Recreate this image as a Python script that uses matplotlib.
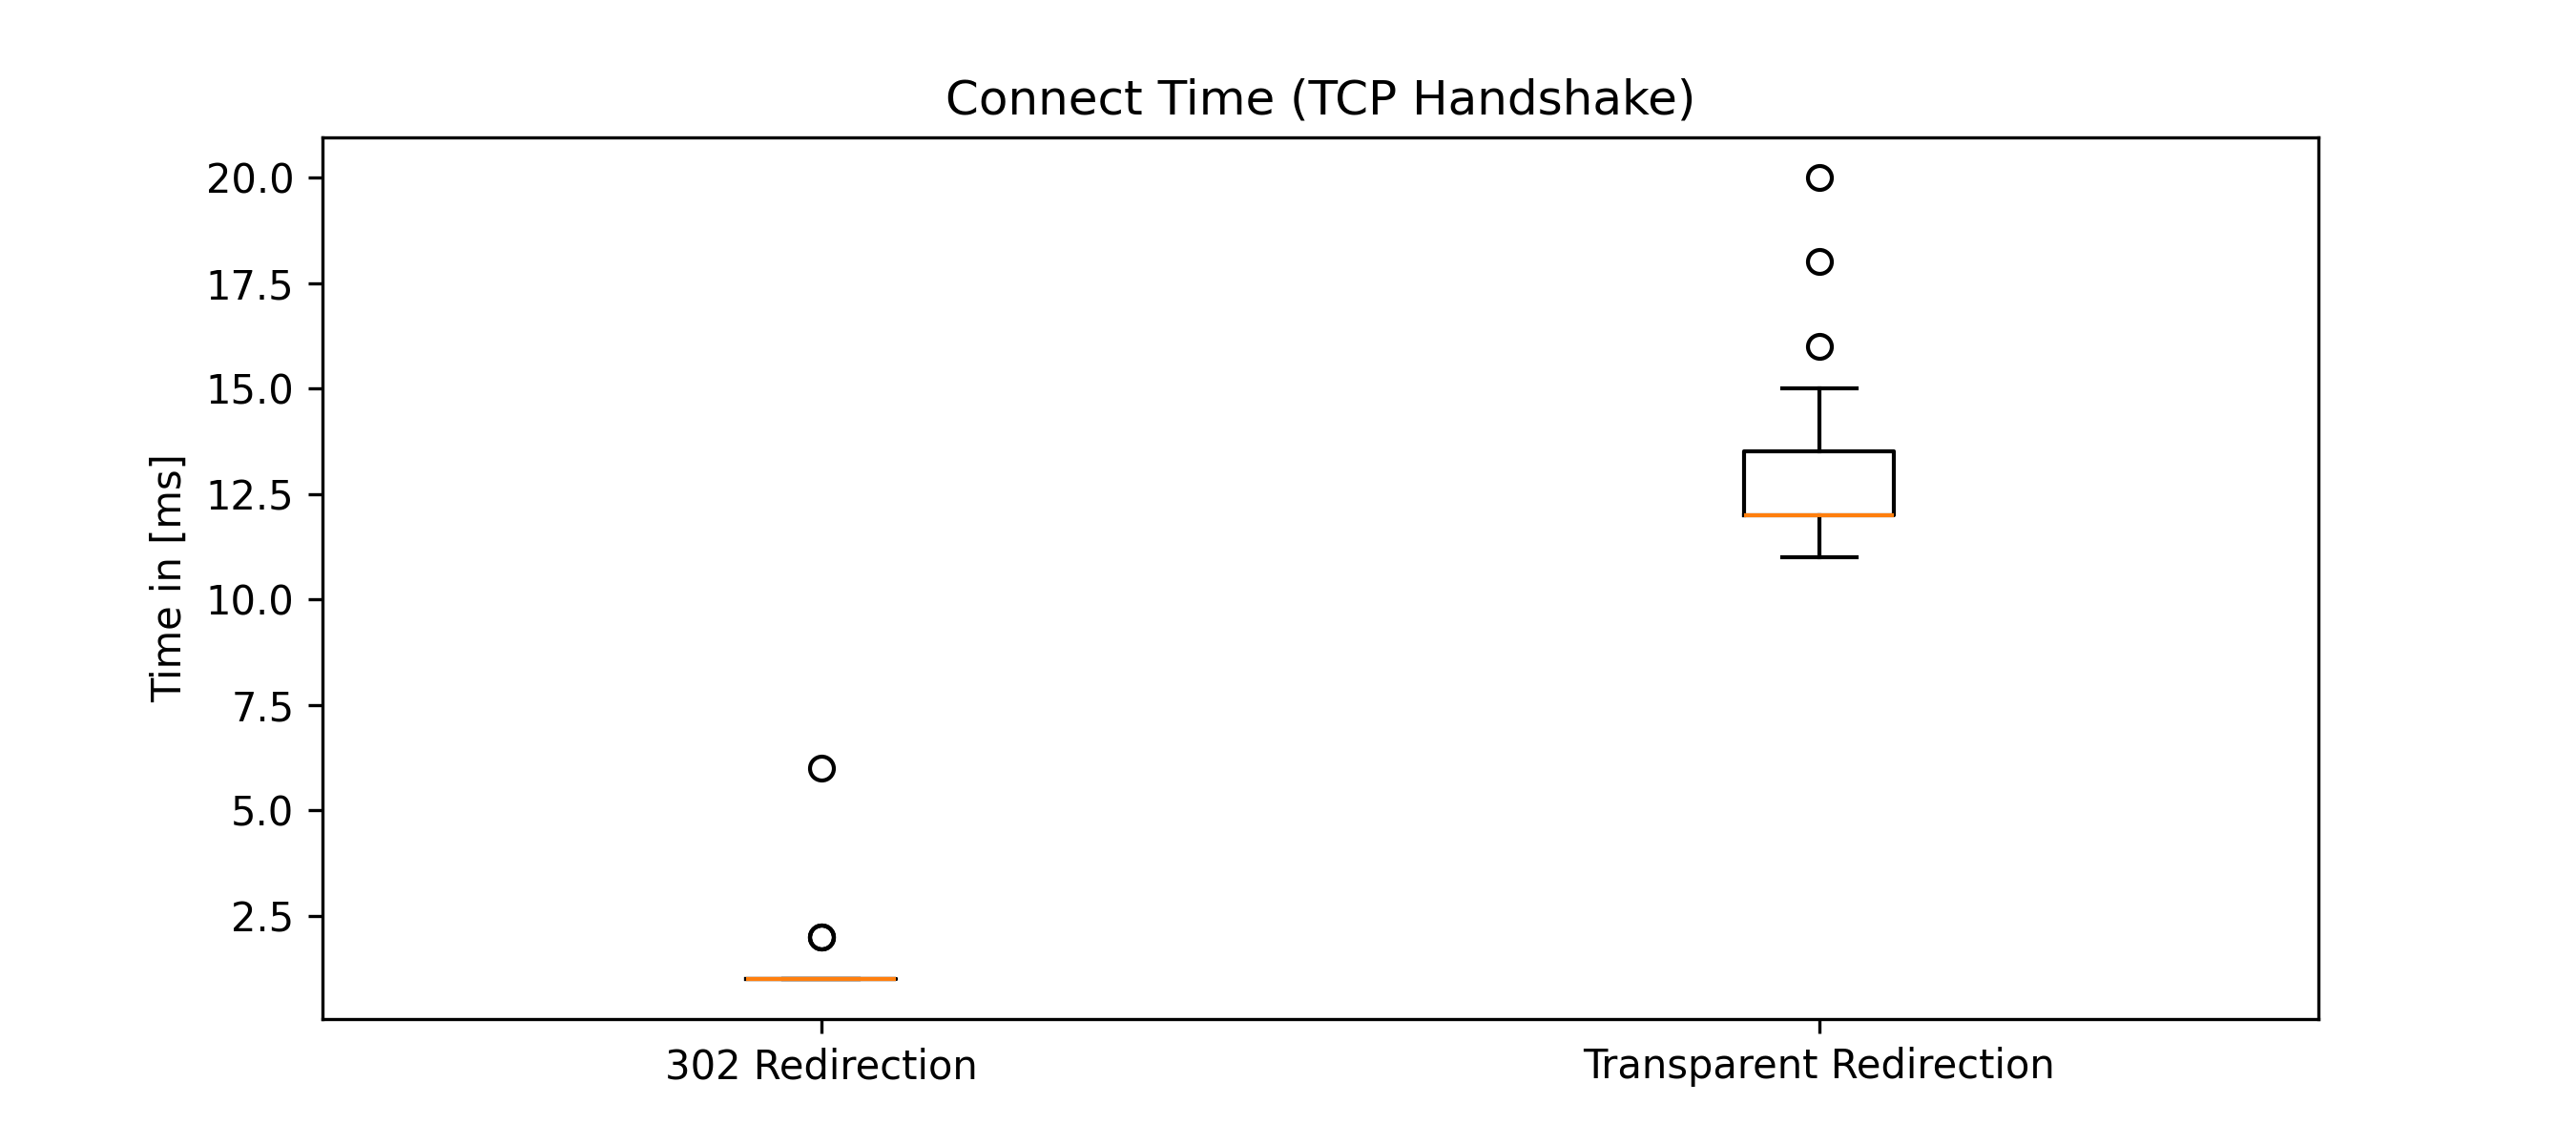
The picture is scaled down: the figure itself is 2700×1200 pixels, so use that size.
import matplotlib
matplotlib.use("Agg")
import matplotlib.pyplot as plt

categories = ["302 Redirection", "Transparent Redirection"]
redirect_302 = [1] * 20 + [2, 2, 2, 6]
transparent = [11] + [12] * 13 + [13] * 3 + [14] + [15] * 2 + [16, 18, 20]

fig, ax = plt.subplots(figsize=(9, 4), dpi=300)
ax.boxplot([redirect_302, transparent])
ax.set_xticks([1, 2])
ax.set_xticklabels(categories)
ax.set_title("Connect Time (TCP Handshake)")
ax.set_ylabel("Time in [ms]")
fig.savefig("out.png", dpi=300)
